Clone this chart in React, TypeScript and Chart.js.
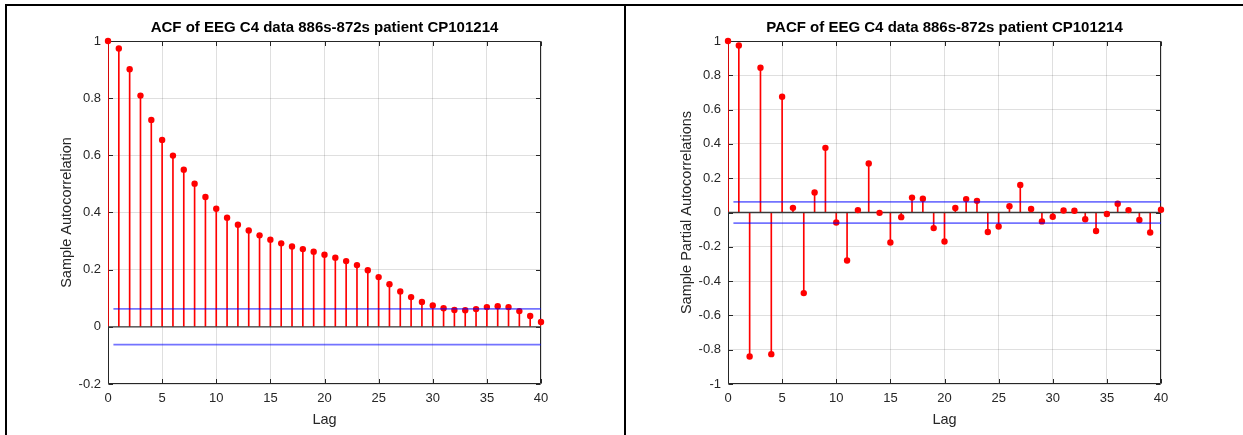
import React, { useEffect, useRef } from "react";
import { Chart, registerables } from "chart.js";

Chart.register(...registerables);

// ---------------- data ----------------
const LAGS = [
  0, 1, 2, 3, 4, 5, 6, 7, 8, 9, 10, 11, 12, 13, 14, 15, 16, 17, 18, 19, 20,
  21, 22, 23, 24, 25, 26, 27, 28, 29, 30, 31, 32, 33, 34, 35, 36, 37, 38, 39, 40,
];

const ACF_VALUES = [
  1.0, 0.974, 0.901, 0.809, 0.724, 0.654, 0.599, 0.55, 0.501, 0.454, 0.413,
  0.382, 0.357, 0.337, 0.32, 0.305, 0.292, 0.281, 0.272, 0.263, 0.252,
  0.242, 0.23, 0.216, 0.198, 0.174, 0.149, 0.124, 0.104, 0.087, 0.075,
  0.065, 0.059, 0.058, 0.062, 0.069, 0.072, 0.069, 0.055, 0.038, 0.017,
];

const PACF_VALUES = [
  1.0, 0.974, -0.84, 0.844, -0.826, 0.675, 0.027, -0.47, 0.117, 0.377, -0.058,
  -0.28, 0.014, 0.286, -0.002, -0.175, -0.027, 0.087, 0.08, -0.091, -0.169,
  0.026, 0.078, 0.068, -0.114, -0.082, 0.037, 0.16, 0.02, -0.052, -0.025,
  0.012, 0.01, -0.039, -0.108, -0.009, 0.051, 0.014, -0.044, -0.117, 0.016,
];

const X_TICKS = [0, 5, 10, 15, 20, 25, 30, 35, 40];
const ACF_Y_TICKS = [-0.2, 0, 0.2, 0.4, 0.6, 0.8, 1];
const PACF_Y_TICKS = [-1, -0.8, -0.6, -0.4, -0.2, 0, 0.2, 0.4, 0.6, 0.8, 1];

const CONF_BOUND = 0.0625;
const BOUND_START_LAG = 0.5;
const BOUND_END_LAG = 40;

const ACF_TITLE = "ACF of EEG C4 data 886s-872s patient CP101214";
const PACF_TITLE = "PACF of EEG C4 data 886s-872s patient CP101214";
const X_LABEL = "Lag";
const ACF_Y_LABEL = "Sample Autocorrelation";
const PACF_Y_LABEL = "Sample Partial Autocorrelations";

// ---------------- styling ----------------
const FONT = '"Liberation Sans", Arial, Helvetica, sans-serif';
const AXIS_COLOR = "#262626";
const GRID_COLOR = "rgba(38,38,38,0.15)";
const STEM_COLOR = "#ff0000";
const BOUND_COLOR = "rgba(0,0,255,0.55)";

const fmt = (v: number) => String(Math.round(v * 10) / 10);

const matlabBox = {
  id: "matlabBox",
  beforeDatasetsDraw(chart: any) {
    const { ctx, chartArea: a, scales } = chart;
    const L = Math.round(a.left) + 0.5;
    const R = Math.round(a.right) - 0.5;
    const T = Math.round(a.top) + 0.5;
    const B = Math.round(a.bottom) - 0.5;
    const tl = 4.5;
    ctx.save();
    ctx.strokeStyle = AXIS_COLOR;
    ctx.lineWidth = 1;
    ctx.beginPath();
    ctx.rect(L, T, R - L, B - T);
    const xt: number[] = (scales.x.ticks || []).map((t: any) => t.value);
    xt.forEach((v) => {
      const px = Math.round(scales.x.getPixelForValue(v)) + 0.5;
      ctx.moveTo(px, B);
      ctx.lineTo(px, B - tl);
      ctx.moveTo(px, T);
      ctx.lineTo(px, T + tl);
    });
    const yt: number[] = (scales.y.ticks || []).map((t: any) => t.value);
    yt.forEach((v) => {
      const py = Math.round(scales.y.getPixelForValue(v)) + 0.5;
      ctx.moveTo(L, py);
      ctx.lineTo(L + tl, py);
      ctx.moveTo(R, py);
      ctx.lineTo(R - tl, py);
    });
    ctx.stroke();
    ctx.restore();
  },
};

type PanelProps = {
  left: number;
  title: string;
  yLabel: string;
  values: number[];
  yTicks: number[];
};

function Panel({ left, title, yLabel, values, yTicks }: PanelProps) {
  const ref = useRef<HTMLCanvasElement | null>(null);

  useEffect(() => {
    if (!ref.current) return;
    const points = LAGS.map((l, i) => ({ x: l, y: values[i] }));
    const yMin = yTicks[0];
    const yMax = yTicks[yTicks.length - 1];
    const chart = new Chart(ref.current, {
      type: "scatter",
      data: {
        datasets: [
          {
            type: "line",
            label: "upper bound",
            data: [
              { x: BOUND_START_LAG, y: CONF_BOUND },
              { x: BOUND_END_LAG, y: CONF_BOUND },
            ],
            borderColor: BOUND_COLOR,
            borderWidth: 1.8,
            pointRadius: 0,
            order: 0,
          },
          {
            type: "line",
            label: "lower bound",
            data: [
              { x: BOUND_START_LAG, y: -CONF_BOUND },
              { x: BOUND_END_LAG, y: -CONF_BOUND },
            ],
            borderColor: BOUND_COLOR,
            borderWidth: 1.8,
            pointRadius: 0,
            order: 0,
          },
          {
            type: "scatter",
            label: "markers",
            data: points,
            backgroundColor: STEM_COLOR,
            borderWidth: 0,
            pointRadius: 3.2,
            clip: false,
            order: 1,
          } as any,
          {
            type: "line",
            label: "baseline",
            data: [
              { x: LAGS[0], y: 0 },
              { x: LAGS[LAGS.length - 1], y: 0 },
            ],
            borderColor: "#3a3a3a",
            borderWidth: 1.3,
            pointRadius: 0,
            order: 2,
          },
          {
            type: "bar",
            label: "stems",
            data: points,
            backgroundColor: STEM_COLOR,
            borderWidth: 0,
            barThickness: 1,
            grouped: false,
            order: 3,
          } as any,
        ],
      },
      options: {
        responsive: false,
        animation: false,
        devicePixelRatio: 1,
        layout: { padding: { left: 40, right: 0, top: 0, bottom: 0 } },
        plugins: {
          legend: { display: false },
          tooltip: { enabled: false },
          title: {
            display: true,
            text: title,
            color: "#000",
            font: { family: FONT, size: 15, weight: "bold" },
            padding: { top: 13.1, bottom: 3.9 },
          },
        },
        scales: {
          x: {
            type: "linear",
            min: 0,
            max: 40,
            offset: false,
            afterBuildTicks: (s: any) => {
              s.ticks = X_TICKS.map((v) => ({ value: v }));
            },
            afterFit: (s: any) => {
              s.height = 51;
            },
            grid: { color: GRID_COLOR, drawTicks: false, offset: false },
            border: { display: false },
            ticks: {
              padding: 7,
              color: AXIS_COLOR,
              font: { family: FONT, size: 13 },
              maxRotation: 0,
              autoSkip: false,
              callback: (v: any) => fmt(Number(v)),
            },
            title: {
              display: true,
              text: X_LABEL,
              color: AXIS_COLOR,
              font: { family: FONT, size: 14.5 },
              padding: { top: 0, bottom: 6.3 },
            },
          },
          y: {
            type: "linear",
            position: "left",
            min: yMin,
            max: yMax,
            afterBuildTicks: (s: any) => {
              s.ticks = yTicks.map((v) => ({ value: v }));
            },
            afterFit: (s: any) => {
              s.width = 61;
            },
            grid: { color: GRID_COLOR, drawTicks: false },
            border: { display: false },
            ticks: {
              padding: 7,
              color: AXIS_COLOR,
              font: { family: FONT, size: 13 },
              autoSkip: false,
              callback: (v: any) => fmt(Number(v)),
            },
            title: {
              display: true,
              text: yLabel,
              color: AXIS_COLOR,
              font: { family: FONT, size: 14.5 },
              padding: { top: 11.3, bottom: 0 },
            },
          },
          y2: {
            type: "linear",
            position: "right",
            display: true,
            grid: { display: false, drawTicks: false },
            border: { display: false },
            ticks: { display: false },
            afterFit: (s: any) => {
              s.width = 61;
            },
          },
        },
      } as any,
      plugins: [matlabBox],
    });
    return () => chart.destroy();
  }, []);

  return (
    <canvas
      ref={ref}
      width={595}
      height={429}
      style={{ position: "absolute", left, top: 6, width: 595, height: 429 }}
    />
  );
}

export default function App() {
  return (
    <div
      style={{
        position: "absolute",
        left: 0,
        top: 0,
        width: 1243,
        height: 435,
        background: "#fff",
        overflow: "hidden",
      }}
    >
      <Panel
        left={7}
        title={ACF_TITLE}
        yLabel={ACF_Y_LABEL}
        values={ACF_VALUES}
        yTicks={ACF_Y_TICKS}
      />
      <Panel
        left={627}
        title={PACF_TITLE}
        yLabel={PACF_Y_LABEL}
        values={PACF_VALUES}
        yTicks={PACF_Y_TICKS}
      />
      <div style={{ position: "absolute", left: 5, top: 4, width: 1238, height: 2, background: "#000" }} />
      <div style={{ position: "absolute", left: 5, top: 4, width: 2, height: 431, background: "#000" }} />
      <div style={{ position: "absolute", left: 624, top: 4, width: 2, height: 431, background: "#000" }} />
    </div>
  );
}
